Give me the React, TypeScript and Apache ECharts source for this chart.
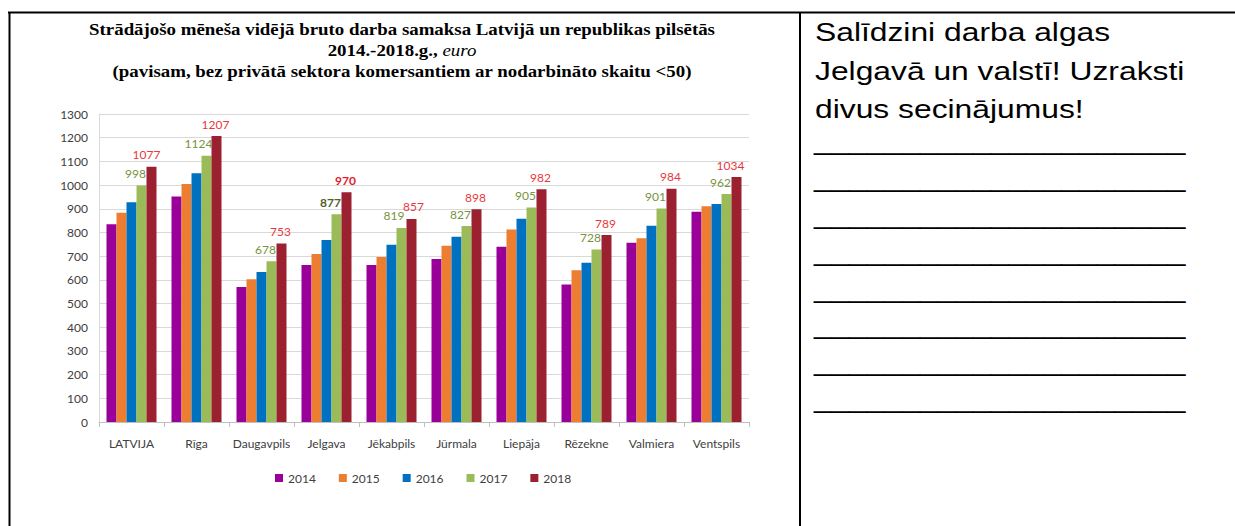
import React, { useEffect, useRef } from "react";
import * as echarts from "echarts";

const categories = ["LATVIJA", "Rīga", "Daugavpils", "Jelgava", "Jēkabpils", "Jūrmala", "Liepāja", "Rēzekne", "Valmiera", "Ventspils"];
const years = ["2014", "2015", "2016", "2017", "2018"];
const v2014 = [835, 952, 570, 663, 663, 688, 740, 580, 757, 887];
const v2015 = [883, 1005, 602, 709, 696, 744, 813, 640, 776, 911];
const v2016 = [928, 1050, 633, 768, 748, 782, 858, 672, 828, 920];
const v2017 = [998, 1124, 678, 877, 819, 827, 905, 728, 901, 962];
const v2018 = [1077, 1207, 753, 970, 857, 898, 982, 789, 984, 1034];
const highlightIndex = 3; // Jelgava

const titleLine1 = "Strādājošo mēneša vidējā bruto darba samaksa Latvijā un republikas pilsētās";
const titleLine2a = "2014.-2018.g., ";
const titleLine2b = "euro";
const titleLine3 = "(pavisam, bez privātā sektora komersantiem ar nodarbināto skaitu <50)";
const taskLines = ["Salīdzini darba algas", "Jelgavā un valstī! Uzraksti", "divus secinājumus!"];
const answerLine = "_____________________";
const answerLineCount = 8;

const colors = ["#990099", "#ED7D31", "#0070C0", "#9BBB59", "#9B2130"];
const labelFont = "Lato, 'Open Sans', sans-serif";
const serif = "'Liberation Serif', 'Times New Roman', serif";
const sans = "'Liberation Sans', Arial, sans-serif";

export default function App() {
  const ref = useRef<HTMLDivElement>(null);
  useEffect(() => {
    if (!ref.current) return;
    const chart = echarts.init(ref.current, null, { renderer: "svg" });
    const seriesData = [v2014, v2015, v2016, v2017, v2018];
    const last = categories.length - 1;

    const series = years.map((y, si) => {
      const base: any = {
        name: y,
        type: "bar",
        barWidth: 10,
        barGap: "0%",
        itemStyle: { color: colors[si] },
        data: seriesData[si].map((v, i) => {
          const item: any = { value: v };
          if (si === 3) {
            const lab: any = {};
            if (i === highlightIndex) { lab.fontWeight = "bold"; lab.color = "#4F6228"; }
            if (i === 1) lab.offset = [-8, 0];
            if (i === 4) lab.offset = [-7.5, 0];
            item.label = lab;
          }
          if (si === 4) {
            const lab: any = {};
            if (i === highlightIndex) { lab.fontWeight = "bold"; lab.color = "#E0202A"; }
            if (i === 0) lab.offset = [-5, 0];
            if (i === 4) lab.offset = [2, 0];
            if (i === last) lab.offset = [-6, 0];
            item.label = lab;
          }
          return item;
        }),
      };
      if (si === 3) {
        base.label = { show: true, position: "top", distance: 6, offset: [-6, 0], color: "#77933C", fontSize: 12, fontFamily: labelFont };
      } else if (si === 4) {
        base.label = { show: true, position: "top", distance: 6, offset: [-1, 0], color: "#E8383D", fontSize: 12, fontFamily: labelFont };
      }
      return base;
    });

    const stretch = 1.18;
    const graphics: any[] = [
      { type: "line", shape: { x1: 8, y1: 12.5, x2: 1235, y2: 12.5 }, style: { stroke: "#000", lineWidth: 2 } },
      { type: "line", shape: { x1: 9.5, y1: 12, x2: 9.5, y2: 526 }, style: { stroke: "#000", lineWidth: 2 } },
      { type: "line", shape: { x1: 800, y1: 12, x2: 800, y2: 526 }, style: { stroke: "#000", lineWidth: 2 } },
      { type: "text", x: 402, y: 30, scaleX: stretch, style: { text: titleLine1, font: "bold 16px " + serif, fill: "#000", textAlign: "center", textVerticalAlign: "middle" } },
      {
        type: "text", x: 402, y: 51, scaleX: stretch,
        style: {
          text: "{b|" + titleLine2a + "}{i|" + titleLine2b + "}",
          textAlign: "center", textVerticalAlign: "middle",
          rich: {
            b: { fontFamily: serif, fontWeight: "bold", fontSize: 16, fill: "#000" },
            i: { fontFamily: serif, fontStyle: "italic", fontSize: 16, fill: "#000" },
          },
        },
      },
      { type: "text", x: 402, y: 72, scaleX: stretch, style: { text: titleLine3, font: "bold 16px " + serif, fill: "#000", textAlign: "center", textVerticalAlign: "middle" } },
    ];
    taskLines.forEach((t, i) => {
      graphics.push({ type: "text", x: 815, y: 32 + i * 38.5, scaleX: 1.2, style: { text: t, font: "26.5px " + sans, fill: "#000", textAlign: "left", textVerticalAlign: "middle" } });
    });
    for (let i = 0; i < answerLineCount; i++) {
      graphics.push({ type: "text", x: 814, y: 141.3 + i * 36.8, scaleX: 1.2, style: { text: answerLine, font: "26.5px " + sans, fill: "#000", textAlign: "left", textVerticalAlign: "middle" } });
    }

    chart.setOption({
      animation: false,
      backgroundColor: "#fff",
      color: colors,
      grid: { left: 99, right: 486, top: 114, bottom: 104, containLabel: false },
      legend: {
        data: years,
        left: 270, top: 467,
        icon: "rect", itemWidth: 8, itemHeight: 8, itemGap: 23,
        textStyle: { color: "#404040", fontSize: 12, fontFamily: labelFont },
      },
      xAxis: {
        type: "category",
        data: categories,
        axisLine: { lineStyle: { color: "#BFBFBF" } },
        axisTick: { show: true, length: 5, lineStyle: { color: "#BFBFBF" } },
        axisLabel: { color: "#404040", fontSize: 12, fontFamily: labelFont, margin: 15, interval: 0 },
      },
      yAxis: {
        type: "value",
        min: 0, max: 1300, interval: 100,
        axisLine: { show: true, lineStyle: { color: "#D9D9D9" } },
        axisTick: { show: false },
        splitLine: { lineStyle: { color: "#D9D9D9" } },
        axisLabel: { color: "#404040", fontSize: 12, fontFamily: labelFont, margin: 11, formatter: (v: number) => String(v) },
      },
      series,
      graphic: graphics,
    });
    return () => chart.dispose();
  }, []);
  return <div ref={ref} style={{ position: "fixed", left: 0, top: 0, width: 1235, height: 526 }} />;
}
